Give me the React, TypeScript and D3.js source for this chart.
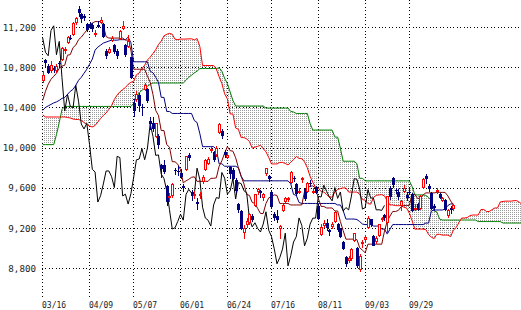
import React from "react";
import * as d3 from "d3";

// ---- tick labels ----
const tickIndex = [0, 17, 33, 50, 67, 83, 100, 117, 133];
const tickLabels = ["03/16", "04/09", "05/07", "06/01", "06/24", "07/16", "08/11", "09/03", "09/29"];
const yTicks = [8800, 9200, 9600, 10000, 10400, 10800, 11200];

// ---- daily OHLC (index 0 = 03/16) ----
const open = [
  10660, 10870, 10810, 10760, 10790, 10760, 10840, 10870, 10960, 11040,
  11090, 11120, 11240, 11380, 11330, 11310, 11230, 11230, 11220, 11140,
  11220, 11240, 11230, 10960, 10940, 11060, 11020, 10960, 11080, 11180,
  11020, 11000, 10900, 10440, 10470, 10520, 10400, 10570, 10580, 10270,
  10250, 10110, 10120, 9830, 9830, 9620, 9500, 9520, 9780, 9770,
  9750, 9620, 9780, 9930, 9560, 9530, 9460, 9530, 9660, 9780,
  9840, 9970, 9960, 9930, 10150, 10170, 9960, 9900, 9810, 9780,
  9680, 9440, 9370, 9150, 9230, 9250, 9320, 9420, 9560, 9570,
  9500, 9740, 9720, 9560, 9340, 9320, 9190, 9370, 9460, 9480,
  9650, 9700, 9640, 9560, 9680, 9590, 9560, 9650, 9560, 9610,
  9420, 9130, 9220, 9250, 9180, 9210, 9260, 9240, 9190, 9060,
  8910, 8870, 8890, 9070, 9000, 8780, 9040, 9080, 9200, 9290,
  9120, 9060, 9120, 9280, 9330, 9250, 9600, 9700, 9580, 9560,
  9420, 9560, 9530, 9560, 9540, 9390, 9440, 9390, 9600, 9720,
  9620, 9550, 9420, 9580, 9540, 9470, 9480, 9320, 9400, 9390,
];
const high = [
  10760, 10880, 10830, 10860, 10810, 10830, 10860, 11000, 11000, 11110,
  11120, 11250, 11300, 11408, 11340, 11330, 11240, 11250, 11240, 11170,
  11260, 11300, 11240, 10980, 11000, 11110, 11030, 10980, 11170, 11260,
  11030, 11120, 10900, 10480, 10560, 10540, 10430, 10640, 10590, 10300,
  10300, 10250, 10140, 9840, 9880, 9630, 9550, 9650, 9800, 9820,
  9790, 9640, 9920, 9950, 9580, 9570, 9500, 9560, 9730, 9890,
  9910, 10010, 9970, 10020, 10250, 10190, 9980, 9960, 9820, 9800,
  9700, 9450, 9380, 9230, 9300, 9350, 9340, 9540, 9600, 9580,
  9550, 9800, 9730, 9580, 9360, 9380, 9230, 9440, 9510, 9510,
  9770, 9720, 9650, 9600, 9710, 9600, 9660, 9680, 9600, 9620,
  9430, 9240, 9280, 9290, 9190, 9260, 9370, 9250, 9200, 9070,
  8920, 8920, 9000, 9150, 9010, 8940, 9080, 9130, 9320, 9290,
  9130, 9120, 9240, 9310, 9340, 9520, 9620, 9710, 9600, 9590,
  9480, 9630, 9560, 9600, 9550, 9440, 9450, 9530, 9700, 9740,
  9640, 9560, 9440, 9600, 9550, 9510, 9490, 9390, 9420, 9440,
];
const low = [
  10640, 10800, 10730, 10740, 10740, 10740, 10790, 10860, 10930, 11030,
  11070, 11110, 11220, 11300, 11240, 11260, 11150, 11180, 11150, 11100,
  11190, 11230, 11090, 10880, 10930, 11050, 10930, 10880, 11070, 11170,
  10900, 10990, 10680, 10300, 10450, 10350, 10310, 10560, 10440, 10180,
  10160, 10100, 10000, 9700, 9740, 9420, 9460, 9500, 9730, 9720,
  9690, 9560, 9770, 9870, 9470, 9490, 9380, 9490, 9640, 9770,
  9830, 9950, 9860, 9910, 10140, 10090, 9900, 9890, 9690, 9680,
  9550, 9350, 9180, 9090, 9200, 9230, 9260, 9410, 9530, 9500,
  9470, 9720, 9660, 9390, 9270, 9250, 9090, 9360, 9440, 9460,
  9640, 9660, 9520, 9540, 9650, 9470, 9550, 9610, 9540, 9540,
  9280, 9120, 9200, 9170, 9120, 9190, 9250, 9160, 9100, 8980,
  8810, 8850, 8870, 9060, 8800, 8760, 9000, 9050, 9190, 9210,
  9020, 9040, 9110, 9260, 9270, 9140, 9480, 9600, 9540, 9480,
  9370, 9550, 9470, 9530, 9360, 9370, 9370, 9380, 9590, 9640,
  9560, 9380, 9370, 9540, 9490, 9460, 9370, 9300, 9340, 9370,
];
const close = [
  10721, 10846, 10744, 10824, 10774, 10815, 10828, 10996, 10986, 11097,
  11089, 11244, 11286, 11339, 11282, 11292, 11168, 11204, 11180, 11143,
  11204, 11273, 11102, 10908, 10980, 11091, 10949, 10914, 11165, 11212,
  10925, 11057, 10695, 10364, 10530, 10411, 10394, 10620, 10462, 10235,
  10186, 10242, 10030, 9784, 9758, 9459, 9522, 9639, 9768, 9768,
  9711, 9603, 9914, 9901, 9520, 9537, 9439, 9542, 9705, 9879,
  9887, 9990, 9880, 9995, 10238, 10112, 9923, 9928, 9737, 9693,
  9570, 9382, 9191, 9203, 9266, 9338, 9279, 9535, 9585, 9548,
  9537, 9796, 9685, 9408, 9300, 9278, 9220, 9430, 9503, 9496,
  9753, 9697, 9537, 9570, 9694, 9489, 9653, 9642, 9572, 9551,
  9292, 9212, 9253, 9196, 9161, 9240, 9362, 9179, 9116, 8995,
  8845, 8906, 8991, 9149, 8824, 8927, 9062, 9114, 9301, 9226,
  9024, 9099, 9239, 9299, 9299, 9516, 9509, 9626, 9566, 9510,
  9471, 9603, 9496, 9559, 9369, 9404, 9381, 9518, 9692, 9685,
  9588, 9389, 9403, 9583, 9500, 9498, 9381, 9382, 9376, 9426,
];

// ---- Ichimoku lines ----
const tenkan = [
  10470, 10560, 10630, 10680, 10710, 10740, 10790, 10810, 10820, 10920,
  10925, 10995, 11020, 11074, 11099, 11134, 11169, 11219, 11239, 11254,
  11254, 11254, 11215, 11105, 11090, 11090, 11090, 11090, 11090, 11090,
  11070, 11070, 10970, 10780, 10780, 10780, 10780, 10780, 10710, 10650,
  10530, 10370, 10320, 10170, 10170, 10030, 10005, 9860, 9860, 9835,
  9780, 9650, 9670, 9685, 9705, 9710, 9665, 9665, 9665, 9665,
  9665, 9695, 9695, 9700, 9815, 9870, 9945, 10010, 9970, 9965,
  9900, 9800, 9715, 9640, 9535, 9525, 9455, 9445, 9395, 9345,
  9345, 9445, 9500, 9515, 9530, 9525, 9445, 9445, 9445, 9445,
  9430, 9430, 9430, 9430, 9430, 9565, 9605, 9615, 9620, 9595,
  9495, 9415, 9415, 9400, 9400, 9400, 9370, 9370, 9265, 9175,
  9090, 9090, 9090, 9090, 9085, 9005, 8980, 8955, 9040, 9040,
  9040, 9040, 9040, 9040, 9170, 9270, 9320, 9365, 9365, 9375,
  9410, 9425, 9425, 9425, 9535, 9535, 9495, 9495, 9530, 9550,
  9550, 9550, 9550, 9555, 9555, 9555, 9555, 9520, 9470, 9430,
];
const kijun = [
  10370, 10400, 10415, 10430, 10445, 10455, 10470, 10490, 10500, 10530,
  10560, 10580, 10620, 10670, 10700, 10740, 10780, 10830, 10880, 10970,
  11000, 11020, 11040, 11050, 11060, 11070, 11069, 11069, 11074, 11074,
  11074, 11099, 11044, 10854, 10854, 10854, 10854, 10854, 10854, 10760,
  10745, 10700, 10650, 10500, 10500, 10360, 10360, 10340, 10340, 10340,
  10340, 10340, 10340, 10340, 10340, 10270, 10250, 10140, 10010, 10010,
  10010, 10010, 10010, 9985, 9840, 9840, 9815, 9815, 9815, 9815,
  9815, 9800, 9715, 9670, 9670, 9670, 9670, 9670, 9670, 9670,
  9670, 9670, 9670, 9670, 9670, 9670, 9670, 9670, 9670, 9670,
  9640, 9535, 9525, 9455, 9445, 9445, 9445, 9445, 9445, 9445,
  9445, 9445, 9445, 9445, 9445, 9445, 9445, 9430, 9430, 9375,
  9290, 9290, 9290, 9290, 9285, 9265, 9240, 9235, 9235, 9235,
  9220, 9220, 9220, 9190, 9190, 9140, 9190, 9235, 9235, 9235,
  9235, 9235, 9235, 9235, 9235, 9235, 9235, 9235, 9235, 9250,
  9250, 9370, 9380, 9380, 9380, 9380, 9390, 9425, 9440, 9440,
];
// leading spans (already plotted 25 sessions ahead, index 0 = 03/16)
const spanA = [
  10325, 10305, 10305, 10305, 10305, 10305, 10305, 10305, 10305, 10300,
  10295, 10285, 10280, 10280, 10270, 10250, 10230, 10215, 10206, 10220,
  10255, 10290, 10320, 10345, 10380, 10420, 10480, 10523, 10555, 10578,
  10598, 10630, 10650, 10660, 10725, 10743, 10788, 10820, 10872, 10900,
  10937, 10975, 11025, 11060, 11112, 11127, 11137, 11128, 11078, 11075,
  11080, 11080, 11080, 11082, 11082, 11072, 11085, 11007, 10817, 10817,
  10817, 10817, 10817, 10782, 10705, 10638, 10535, 10485, 10335, 10335,
  10195, 10183, 10100, 10100, 10088, 10060, 9995, 10005, 10013, 10023,
  9990, 9958, 9903, 9838, 9838, 9838, 9853, 9853, 9843, 9828,
  9855, 9880, 9913, 9893, 9890, 9858, 9800, 9715, 9655, 9603,
  9598, 9563, 9558, 9533, 9508, 9508, 9558, 9585, 9593, 9600,
  9598, 9558, 9558, 9558, 9558, 9535, 9483, 9478, 9443, 9438,
  9505, 9525, 9530, 9533, 9520, 9470, 9430, 9430, 9423, 9423,
  9423, 9408, 9400, 9348, 9275, 9190, 9190, 9190, 9190, 9185,
  9135, 9110, 9095, 9138, 9138, 9130, 9130, 9130, 9115, 9180,
  9205, 9255, 9300, 9300, 9305, 9323, 9330, 9330, 9330, 9385,
  9385, 9365, 9365, 9383, 9400, 9400, 9460, 9465, 9468, 9468,
  9468, 9473, 9473, 9455, 9435,
];
const spanB = [
  10030, 10030, 10030, 10030, 10030, 10130, 10250, 10380, 10410, 10410,
  10410, 10410, 10410, 10410, 10410, 10410, 10410, 10410, 10410, 10410,
  10410, 10410, 10410, 10410, 10410, 10410, 10410, 10410, 10410, 10410,
  10410, 10410, 10410, 10440, 10500, 10545, 10570, 10590, 10610, 10630,
  10643, 10643, 10643, 10643, 10643, 10643, 10643, 10643, 10643, 10643,
  10643, 10643, 10670, 10700, 10720, 10743, 10760, 10787, 10787, 10787,
  10787, 10787, 10787, 10787, 10794, 10760, 10690, 10637, 10554, 10470,
  10414, 10414, 10414, 10414, 10414, 10414, 10414, 10414, 10414, 10414,
  10414, 10394, 10394, 10394, 10394, 10394, 10394, 10394, 10394, 10394,
  10360, 10355, 10340, 10340, 10340, 10340, 10340, 10240, 10175, 10175,
  10175, 10175, 10175, 10175, 10175, 10175, 10105, 10105, 9995, 9865,
  9865, 9865, 9865, 9865, 9840, 9695, 9695, 9670, 9670, 9670,
  9670, 9670, 9670, 9670, 9670, 9670, 9670, 9670, 9670, 9670,
  9670, 9670, 9670, 9670, 9615, 9530, 9530, 9530, 9530, 9525,
  9505, 9475, 9370, 9360, 9290, 9280, 9280, 9280, 9280, 9280,
  9280, 9280, 9280, 9280, 9280, 9280, 9280, 9280, 9265, 9265,
  9265, 9265, 9265, 9265, 9265, 9265, 9265, 9250, 9250, 9250,
  9250, 9250, 9250, 9250, 9250,
];
const CHIKOU_LAG = 25;

const W = 521;
const H = 310;

export default function App() {
  const x = d3.scaleLinear().domain([0, 133]).range([42.7, 409.3]);
  const y = d3.scaleLinear().domain([8800, 11200]).range([268.3, 27]);

  const lineGen = d3
    .line<number>()
    .x((_, i) => x(i))
    .y((d) => y(d));

  const cloud = d3
    .area<number>()
    .x((_, i) => x(i))
    .y0((_, i) => y(spanB[i]))
    .y1((d) => y(d));

  const chikouPts: [number, number][] = close
    .map((c, i) => [i - CHIKOU_LAG, c] as [number, number])
    .filter((p) => p[0] >= 0);
  const chikouGen = d3
    .line<[number, number]>()
    .x((d) => x(d[0]))
    .y((d) => y(d[1]));

  const fmt = d3.format(",");
  const plotLeft = 42;
  const plotBottom = 297;

  return (
    <svg
      width={W}
      height={H}
      viewBox={`0 0 ${W} ${H}`}
      style={{ position: "absolute", left: 0, top: 0, background: "#fff" }}
    >
      <defs>
        <pattern id="dots" width="2" height="2" patternUnits="userSpaceOnUse">
          <rect x="0" y="0" width="1" height="1" fill="#9a9a9a" />
        </pattern>
      </defs>
      <rect x={0} y={0} width={W} height={H} fill="#fff" />

      {/* cloud */}
      <path d={cloud(spanA) || ""} fill="url(#dots)" stroke="none" />

      {/* grid */}
      <g shapeRendering="crispEdges" stroke="#000" strokeWidth={1} strokeDasharray="1,2.4">
        {yTicks.map((v) => {
          const yy = Math.round(y(v)) + 0.5;
          return <line key={"h" + v} x1={plotLeft} x2={W} y1={yy} y2={yy} />;
        })}
        {tickIndex.map((ti) => {
          const xx = Math.floor(x(ti)) + 0.5;
          return <line key={"v" + ti} x1={xx} x2={xx} y1={0} y2={plotBottom} />;
        })}
      </g>

      {/* y labels */}
      <g fontFamily="'DejaVu Sans Mono', monospace" fontSize={9.2} fill="#222" textAnchor="end">
        {yTicks.map((v) => (
          <text key={"yl" + v} x={36} y={y(v) + 3.5}>
            {fmt(v)}
          </text>
        ))}
      </g>
      {/* x labels */}
      <g fontFamily="'DejaVu Sans Mono', monospace" fontSize={8} fill="#222">
        {tickIndex.map((ti, k) => (
          <text key={"xl" + ti} x={Math.floor(x(ti))} y={308}>
            {tickLabels[k]}
          </text>
        ))}
      </g>

      {/* ichimoku lines */}
      <g fill="none" strokeWidth={1}>
        <path d={lineGen(spanB) || ""} stroke="#008000" />
        <path d={lineGen(spanA) || ""} stroke="#ff0000" />
        <path d={lineGen(kijun) || ""} stroke="#000080" />
        <path d={lineGen(tenkan) || ""} stroke="#800000" />
        <path d={chikouGen(chikouPts) || ""} stroke="#000" />
      </g>

      {/* candles */}
      <g shapeRendering="crispEdges">
        {close.map((c, i) => {
          const o = open[i];
          const up = c >= o;
          const cx = Math.round(x(i));
          const top = Math.round(y(Math.max(o, c)));
          const bot = Math.round(y(Math.min(o, c)));
          const hi = Math.round(y(high[i]));
          const lo = Math.round(y(low[i]));
          const col = up ? "#ff0000" : "#000080";
          const bh = Math.max(1, bot - top);
          return (
            <g key={"c" + i}>
              <line x1={cx + 0.5} x2={cx + 0.5} y1={hi} y2={lo} stroke={col} strokeWidth={1} />
              {up ? (
                <rect x={cx - 0.5} y={top + 0.5} width={2} height={Math.max(1, bh - 1)} fill="#fff" stroke={col} strokeWidth={1} />
              ) : (
                <rect x={cx - 1} y={top} width={3} height={bh} fill={col} />
              )}
            </g>
          );
        })}
      </g>
    </svg>
  );
}
